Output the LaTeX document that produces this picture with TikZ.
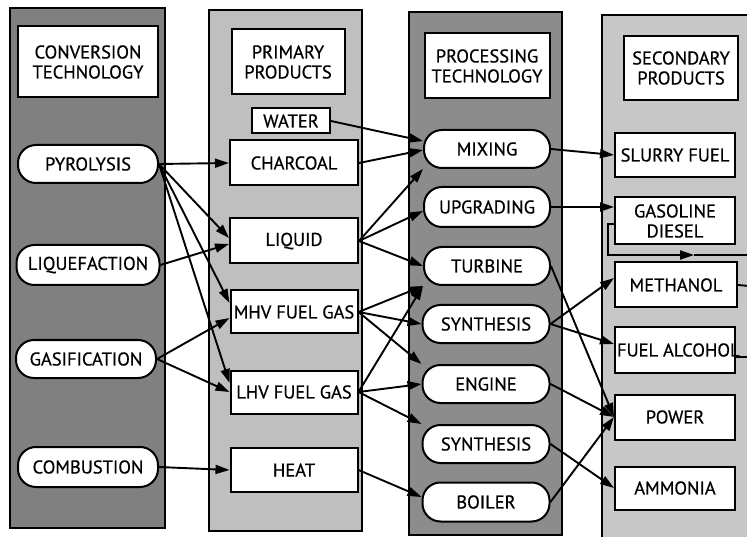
\documentclass[tikz,border=0pt]{standalone}
\usepackage{fontspec}
\setmainfont[FakeBold=0.6]{PT Sans}
\usetikzlibrary{arrows.meta}

\begin{document}
\begin{tikzpicture}[x=1pt,y=-1pt,
    panel/.style={draw,line width=1.8pt},
    head/.style={draw,fill=white,line width=2pt,align=center,inner sep=0pt},
    tech/.style={draw,fill=white,line width=2pt,rounded corners=18pt,
        minimum width=140pt,minimum height=38pt,inner sep=0pt},
    prod/.style={draw,fill=white,line width=2pt,minimum width=127pt,
        minimum height=44pt,inner sep=0pt},
    flow/.style={->,line width=1.9pt},
    >={Triangle[length=14pt,width=9pt]},
    font=\fontsize{18.5}{20}\selectfont]
    \useasboundingbox (0,0) rectangle (747,537);
    \clip (0,0) rectangle (747,537);

    % Column panels
    \draw[panel,fill=black!50] (10,8) rectangle (165,528);
    \draw[panel,fill=black!25] (209,10) rectangle (362,531);
    \draw[panel,fill=black!45] (409,12) rectangle (562,535);
    \draw[panel,fill=black!22] (602,15) rectangle (770,560);

    % Headers
    \node[head,minimum width=140pt,minimum height=71pt] (hconv) at (88,62) {CONVERSION\\TECHNOLOGY};
    \node[head,minimum width=113pt,minimum height=65pt] (hprim) at (288,62) {PRIMARY\\PRODUCTS};
    \node[head,minimum width=125pt,minimum height=65pt] (hproc) at (487,66) {PROCESSING\\TECHNOLOGY};
    \node[head,minimum width=114pt,minimum height=64pt] (hsec) at (681,68) {SECONDARY\\PRODUCTS};

    % Conversion technology
    \node[tech] (pyro) at (88,164) {PYROLYSIS};
    \node[tech,minimum width=143pt,minimum height=40pt] (liqf) at (88,265) {LIQUEFACTION};
    \node[tech] (gasf) at (86,359) {GASIFICATION};
    \node[tech,minimum height=40pt] (comb) at (88,467) {COMBUSTION};

    % Primary products
    \node[prod,minimum width=78pt,minimum height=25pt] (water) at (291,121) {WATER};
    \node[prod,minimum width=128pt,minimum height=45pt] (char) at (294,163) {CHARCOAL};
    \node[prod,minimum width=128pt,minimum height=45pt] (liquid) at (294,241) {LIQUID};
    \node[prod,minimum height=43pt] (mhv) at (294,312) {\makebox[123pt][c]{MHV FUEL GAS}};
    \node[prod,minimum height=43pt] (lhv) at (294,392) {\makebox[123pt][c]{LHV FUEL GAS}};
    \node[prod] (heat) at (294,470) {HEAT};

    % Processing technology
    \node[tech,minimum width=126pt] (mix) at (487,149) {MIXING};
    \node[tech,minimum width=126pt,minimum height=40pt] (upg) at (487,207) {UPGRADING};
    \node[tech,minimum width=126pt] (turb) at (487,266) {TURBINE};
    \node[tech,minimum width=127pt] (syn1) at (486,324) {SYNTHESIS};
    \node[tech,minimum width=127pt] (eng) at (486,384) {ENGINE};
    \node[tech,minimum width=127pt] (syn2) at (486,444) {SYNTHESIS};
    \node[tech,minimum width=127pt,minimum height=39pt] (boil) at (486,502) {BOILER};

    % Secondary products
    \node[prod,minimum width=120pt] (slurry) at (675,155) {\makebox[116pt][c]{SLURRY FUEL}};
    \node[prod,minimum width=120pt,minimum height=47pt,align=center] (gasdie) at (675,221) {GASOLINE\\DIESEL};
    \node[prod,minimum width=122pt,minimum height=45pt] (meth) at (676,285) {METHANOL};
    \node[prod,minimum width=120pt,minimum height=45pt] (alc) at (675,350) {\makebox[116pt][l]{FUEL ALCOHOL}};
    \node[prod,minimum width=120pt,minimum height=45pt] (power) at (675,417) {POWER};
    \node[prod,minimum width=120pt,minimum height=43pt] (amm) at (675,488) {AMMONIA};

    % Conversion -> primary
    \draw[flow] (pyro.east) -- (char.west);
    \draw[flow] (pyro.east) -- ([yshift=3pt]liquid.west);
    \draw[flow] (pyro.east) -- ([yshift=9pt]mhv.west);
    \draw[flow] (pyro.east) -- ([yshift=9pt]lhv.west);
    \draw[flow] (liqf.east) -- ([yshift=-3pt]liquid.west);
    \draw[flow] (gasf.east) -- ([yshift=-6pt]mhv.west);
    \draw[flow] (gasf.east) -- (lhv.west);
    \draw[flow] (comb.east) -- (heat.west);

    % Primary -> processing
    \draw[flow] (water.east) -- ([yshift=8pt]mix.west);
    \draw[flow] (char.east) -- ([yshift=-1pt]mix.west);
    \draw[flow] (liquid.east) -- (mix.south west);
    \draw[flow] (liquid.east) -- ([yshift=-4pt]upg.west);
    \draw[flow] (liquid.east) -- (turb.west);
    \draw[flow] (mhv.east) -- (turb.south west);
    \draw[flow] (mhv.east) -- (syn1.west);
    \draw[flow] (mhv.east) -- (eng.north west);
    \draw[flow] (lhv.east) -- (turb.south west);
    \draw[flow] (lhv.east) -- (eng.west);
    \draw[flow] (lhv.east) -- (syn2.north west);
    \draw[flow] (heat.east) -- ([yshift=5pt]boil.west);

    % Processing -> secondary
    \draw[flow] (mix.east) -- (slurry.west);
    \draw[flow] (upg.east) -- (upg.east -| gasdie.west);
    \draw[flow] (syn1.east) -- ([yshift=7pt]meth.west);
    \draw[flow] (syn1.east) -- ([yshift=6pt]alc.west);
    \draw[flow] (turb.east) -- (power.west);
    \draw[flow] (eng.east) -- (power.west);
    \draw[flow] (boil.east) -- (power.west);
    \draw[flow] (syn2.east) -- (amm.west);

    % Lines leaving to the right
    \coordinate (loopa) at (608,255);
    \coordinate (loopm) at (694,255);
    \coordinate (loopb) at (760,255);
    \coordinate (methout) at (760,287);
    \coordinate (alcout) at (760,357);
    \draw[flow] ([yshift=-3pt]gasdie.west) -| (loopa) -- (loopm);
    \draw[line width=1.9pt] (loopm) -- (loopb);
    \draw[line width=1.9pt] (meth.east) -- (methout);
    \draw[line width=1.9pt] ([yshift=-7pt]alc.east) -- (alcout);
\end{tikzpicture}
\end{document}
